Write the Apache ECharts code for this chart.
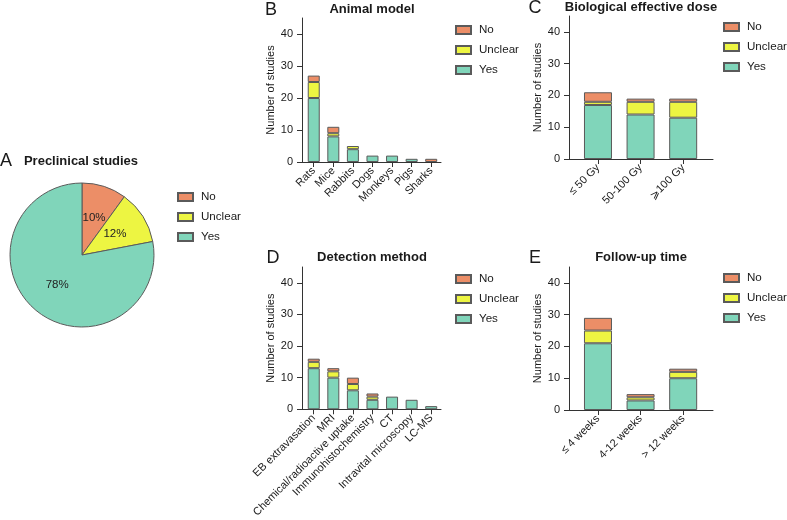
<!DOCTYPE html>
<html><head><meta charset="utf-8">
<script src="https://cdn.jsdelivr.net/npm/echarts@6/dist/echarts.min.js"></script>
<style>html,body{margin:0;padding:0;background:#fff}#c{width:787px;height:520px}</style>
</head><body><div id="c"></div>
<script>
// ---------- data ----------
const statusNames = ['No', 'Unclear', 'Yes'];
const piePercent = [10, 12, 78];

const animalCats = ['Rats', 'Mice', 'Rabbits', 'Dogs', 'Monkeys', 'Pigs', 'Sharks'];
const animalYes = [20, 8, 4, 2, 2, 1, 0];
const animalUnclear = [5, 1, 1, 0, 0, 0, 0];
const animalNo = [2, 2, 0, 0, 0, 0, 1];

const doseCats = ['≤ 50 Gy', '50-100 Gy', '⩾100 Gy'];
const doseYes = [17, 14, 13];
const doseUnclear = [1, 4, 5];
const doseNo = [3, 1, 1];

const detectCats = ['EB extravasation', 'MRI', 'Chemical/radioactive uptake', 'Immunohistochemistry', 'CT', 'Intravital microscopy', 'LC-MS'];
const detectYes = [13, 10, 6, 3, 4, 3, 1];
const detectUnclear = [2, 2, 2, 1, 0, 0, 0];
const detectNo = [1, 1, 2, 1, 0, 0, 0];

const followCats = ['≤ 4 weeks', '4-12 weeks', '> 12 weeks'];
const followYes = [21, 3, 10];
const followUnclear = [4, 1, 2];
const followNo = [4, 1, 1];

const yTicks = [0, 10, 20, 30, 40];
const yLabel = 'Number of studies';

// ---------- style ----------
const FONT = '"Liberation Sans", Arial, Helvetica, sans-serif';
const COL = { No: '#EC8E67', Unclear: '#EDF542', Yes: '#80D5BA' };
const BORDER = '#5a5a5a';
const TXT = '#1a1a1a';

const panels = [
  { cats: animalCats, Yes: animalYes, Unclear: animalUnclear, No: animalNo,
    grid: { left: 302, top: 18, width: 139, height: 144 }, xMin: 0.4, xMax: 7.5, bw: 12, gap: 24,
    legend: { left: 455, top: 24 } },
  { cats: doseCats, Yes: doseYes, Unclear: doseUnclear, No: doseNo,
    grid: { left: 569, top: 16, width: 144, height: 143 }, xMin: 0.32, xMax: 3.7, bw: 28, gap: 20,
    legend: { left: 723, top: 21 } },
  { cats: detectCats, Yes: detectYes, Unclear: detectUnclear, No: detectNo,
    grid: { left: 302, top: 267, width: 139, height: 143 }, xMin: 0.4, xMax: 7.5, bw: 12, gap: 24,
    legend: { left: 455, top: 273 } },
  { cats: followCats, Yes: followYes, Unclear: followUnclear, No: followNo,
    grid: { left: 569, top: 267, width: 144, height: 143 }, xMin: 0.32, xMax: 3.7, bw: 28, gap: 20,
    legend: { left: 723, top: 272 } }
];

const legendBase = {
  orient: 'vertical', data: statusNames, icon: 'rect', itemWidth: 15, itemHeight: 8, itemGap: 8,
  selectedMode: false, width: 80, padding: 0,
  textStyle: { fontSize: 11.6, color: TXT, fontFamily: FONT, padding: [0, 0, 0, 3], overflow: 'none' }
};

const grids = [], xAxes = [], yAxes = [], series = [], legends = [];
panels.forEach((p, i) => {
  grids.push(Object.assign({ containLabel: false }, p.grid));
  const pos = p.cats.map((_, k) => k + 1);
  xAxes.push({
    type: 'value', gridIndex: i, min: p.xMin, max: p.xMax,
    axisLine: { show: true, onZero: false, lineStyle: { color: '#333', width: 1 } },
    axisTick: { show: true, customValues: pos, length: 5, lineStyle: { color: '#333' } },
    axisLabel: { customValues: pos, formatter: v => p.cats[Math.round(v) - 1] || '', rotate: 45,
      margin: 7, fontSize: 11, color: TXT, fontFamily: FONT, hideOverlap: false },
    splitLine: { show: false }
  });
  yAxes.push({
    type: 'value', gridIndex: i, min: 0, max: 45, interval: 10,
    axisLine: { show: true, lineStyle: { color: '#333', width: 1 } },
    axisTick: { show: true, customValues: yTicks, length: 5, lineStyle: { color: '#333' } },
    axisLabel: { customValues: yTicks, margin: 9, fontSize: 11, color: TXT, fontFamily: FONT },
    splitLine: { show: false },
    name: yLabel, nameLocation: 'middle', nameGap: p.gap, nameRotate: 90,
    nameTextStyle: { fontSize: 11, color: TXT, fontFamily: FONT }
  });
  ['Yes', 'Unclear', 'No'].forEach(st => {
    series.push({
      type: 'bar', name: st, xAxisIndex: i, yAxisIndex: i, stack: 'panel' + i,
      barWidth: p.bw, encode: { x: 1, y: 0 },
      itemStyle: { color: COL[st], borderColor: BORDER, borderWidth: 1 },
      emphasis: { disabled: true },
      data: p[st].map((v, k) => [v > 0 ? v : '-', k + 1])
    });
  });
  legends.push(Object.assign({}, legendBase, { left: p.legend.left, top: p.legend.top }));
});

series.push({
  type: 'pie', center: [82, 255], radius: 72, startAngle: 90, clockwise: true,
  avoidLabelOverlap: false, emphasis: { disabled: true },
  itemStyle: { borderColor: BORDER, borderWidth: 1 },
  label: { position: 'inside', formatter: '{c}%', fontSize: 11.5, color: '#222', fontFamily: FONT },
  labelLine: { show: false },
  data: statusNames.map((n, i) => ({ name: n, value: piePercent[i], itemStyle: { color: COL[n] } }))
});
legends.push(Object.assign({}, legendBase, { left: 177, top: 191 }));

function txt(x, y, s, size, bold) {
  return { type: 'text', x: x, y: y, silent: true,
    style: { text: s, fontSize: size, fontWeight: bold ? 'bold' : 'normal', fontFamily: FONT,
      fill: TXT, align: 'center', verticalAlign: 'middle' } };
}

const option = {
  animation: false,
  textStyle: { fontFamily: FONT },
  grid: grids, xAxis: xAxes, yAxis: yAxes, series: series, legend: legends,
  graphic: [
    txt(6, 161, 'A', 18, false),
    txt(81, 161, 'Preclinical studies', 13, true),
    txt(271, 10, 'B', 18, false),
    txt(372, 9, 'Animal model', 13, true),
    txt(535, 8, 'C', 18, false),
    txt(641, 7, 'Biological effective dose', 13, true),
    txt(273, 258, 'D', 18, false),
    txt(372, 257, 'Detection method', 13, true),
    txt(535, 258, 'E', 18, false),
    txt(641, 257, 'Follow-up time', 13, true)
  ]
};

const chart = echarts.init(document.getElementById('c'), null, { renderer: 'canvas' });
chart.setOption(option);
</script>
</body></html>
